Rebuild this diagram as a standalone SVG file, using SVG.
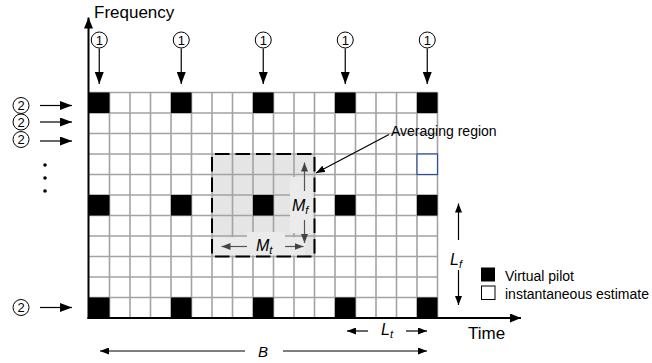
<svg xmlns="http://www.w3.org/2000/svg" width="652" height="363" viewBox="0 0 652 363">
  <defs>
    <style>
      text { font-family: "Liberation Sans", Arial, sans-serif; fill: #000; }
      .lbl { font-size: 17px; }
      .num { font-size: 13px; text-anchor: middle; }
      .leg { font-size: 14px; }
      .it { font-style: italic; font-size: 16px; }
      .sub { font-style: italic; font-size: 11px; }
      .grid { fill: none; stroke: #a3a3a3; stroke-width: 1.6; }
      .pilot { fill: #000; }
      .circ { fill: #fff; stroke: #000; stroke-width: 1; }
      .arr { stroke: #000; stroke-width: 1.2; fill: none; }
      .garr { stroke: #555; stroke-width: 1.2; fill: none; }
      .axis { stroke: #000; stroke-width: 2; fill: none; }
      .box { fill: #ebebeb; }
    </style>
    <marker id="big" markerUnits="userSpaceOnUse" markerWidth="13" markerHeight="9" refX="12" refY="4.5" orient="auto">
      <path d="M0,0 L12,4.5 L0,9 z" fill="#000"/>
    </marker>
    <marker id="small" markerUnits="userSpaceOnUse" markerWidth="10" markerHeight="7" refX="9" refY="3.5" orient="auto">
      <path d="M0,0 L9,3.5 L0,7 z" fill="#000"/>
    </marker>
    <marker id="gsmall" markerUnits="userSpaceOnUse" markerWidth="10" markerHeight="7" refX="9" refY="3.5" orient="auto">
      <path d="M0,0 L9,3.5 L0,7 z" fill="#444"/>
    </marker>
    <marker id="ax" markerUnits="userSpaceOnUse" markerWidth="12" markerHeight="9" refX="11" refY="4.5" orient="auto">
      <path d="M0,0 L11,4.5 L0,9 z" fill="#000"/>
    </marker>
  </defs>

  <rect width="652" height="363" fill="#fff"/>

  <g id="grid">
    <rect x="89" y="92.5" width="348.5" height="225.5" fill="#fff"/>
    <rect id="region-fill" x="212" y="154" width="102.5" height="102.5" fill="#e5e5e5"/>
    <path class="grid" d="M109.5 92.5V318 M130 92.5V318 M150.5 92.5V318 M171 92.5V318 M191.5 92.5V318 M212 92.5V318 M232.5 92.5V318 M253 92.5V318 M273.5 92.5V318 M294 92.5V318 M314.5 92.5V318 M335 92.5V318 M355.5 92.5V318 M376 92.5V318 M396.5 92.5V318 M417 92.5V318 M437.5 92.5V318 M89 92.5H437.5 M89 113H437.5 M89 133.5H437.5 M89 154H437.5 M89 174.5H437.5 M89 195H437.5 M89 215.5H437.5 M89 236H437.5 M89 256.5H437.5 M89 277H437.5 M89 297.5H437.5"/>
    <rect class="box" x="214" y="237.2" width="91" height="18.3"/>
    <rect class="box" x="247" y="232" width="38" height="6"/>
    <rect class="box" x="290" y="177" width="23.5" height="56"/>
    <rect x="417" y="154" width="20.5" height="20.5" fill="#fff" stroke="#2b4b9b" stroke-width="1.2"/>
  </g>

  <g id="pilots">
    <rect class="pilot" x="89" y="92.5" width="20.5" height="20.5"/>
    <rect class="pilot" x="171" y="92.5" width="20.5" height="20.5"/>
    <rect class="pilot" x="253" y="92.5" width="20.5" height="20.5"/>
    <rect class="pilot" x="335" y="92.5" width="20.5" height="20.5"/>
    <rect class="pilot" x="417" y="92.5" width="20.5" height="20.5"/>
    <rect class="pilot" x="89" y="195" width="20.5" height="20.5"/>
    <rect class="pilot" x="171" y="195" width="20.5" height="20.5"/>
    <rect class="pilot" x="253" y="195" width="20.5" height="20.5"/>
    <rect class="pilot" x="335" y="195" width="20.5" height="20.5"/>
    <rect class="pilot" x="417" y="195" width="20.5" height="20.5"/>
    <rect class="pilot" x="89" y="297.5" width="20.5" height="20.5"/>
    <rect class="pilot" x="171" y="297.5" width="20.5" height="20.5"/>
    <rect class="pilot" x="253" y="297.5" width="20.5" height="20.5"/>
    <rect class="pilot" x="335" y="297.5" width="20.5" height="20.5"/>
    <rect class="pilot" x="417" y="297.5" width="20.5" height="20.5"/>
  </g>

  <g id="averaging-region">
    <rect x="212" y="154" width="102.5" height="102.5" fill="none" stroke="#000" stroke-width="2" stroke-dasharray="14.5 6" stroke-dashoffset="17.5"/>
    <text class="leg" x="391" y="136">Averaging region</text>
  </g>

  <g id="mt-label">
    <text class="it" x="256" y="251">M<tspan class="sub" dy="3">t</tspan></text>
  </g>
  <g id="mf-label">
    <text class="it" x="292" y="211">M<tspan class="sub" dy="3">f</tspan></text>
  </g>

  <g id="axes">
    <line class="axis" x1="88.5" y1="319" x2="88.5" y2="17.5" marker-end="url(#ax)"/>
    <line class="axis" x1="87.5" y1="318" x2="521" y2="318" marker-end="url(#ax)"/>
    <text class="lbl" x="94" y="17.5">Frequency</text>
    <text class="lbl" x="468" y="339">Time</text>
  </g>

  <g id="marker-1">
    <circle class="circ" cx="99.25" cy="40" r="8"/><text class="num" x="99.25" y="44.5">1</text>
    <circle class="circ" cx="181.25" cy="40" r="8"/><text class="num" x="181.25" y="44.5">1</text>
    <circle class="circ" cx="263.25" cy="40" r="8"/><text class="num" x="263.25" y="44.5">1</text>
    <circle class="circ" cx="345.25" cy="40" r="8"/><text class="num" x="345.25" y="44.5">1</text>
    <circle class="circ" cx="427.25" cy="40" r="8"/><text class="num" x="427.25" y="44.5">1</text>
  </g>

  <g id="marker-2">
    <circle class="circ" cx="21" cy="105.5" r="8"/><text class="num" x="21" y="110">2</text>
    <circle class="circ" cx="21" cy="122" r="8"/><text class="num" x="21" y="126.5">2</text>
    <circle class="circ" cx="21" cy="139.5" r="8"/><text class="num" x="21" y="144">2</text>
    <circle class="circ" cx="21" cy="307.5" r="8"/><text class="num" x="21" y="312">2</text>
    <circle cx="45" cy="165" r="1.8" fill="#000"/>
    <circle cx="45" cy="178" r="1.8" fill="#000"/>
    <circle cx="45" cy="191" r="1.8" fill="#000"/>
  </g>

  <g id="lf-label">
    <text class="it" x="450" y="265">L<tspan class="sub" dy="3">f</tspan></text>
  </g>
  <g id="lt-label">
    <text class="it" x="381" y="335">L<tspan class="sub" dy="3">t</tspan></text>
  </g>
  <g id="b-label">
    <text class="it" x="258" y="357" style="font-size:15px">B</text>
  </g>

  <g id="legend">
    <rect x="481" y="267.5" width="14" height="14" fill="#000"/>
    <text class="leg" x="505" y="280.5">Virtual pilot</text>
    <rect x="481.5" y="286" width="13.5" height="13.5" fill="#fff" stroke="#000" stroke-width="1"/>
    <text class="leg" x="505" y="299">instantaneous estimate</text>
  </g>

  <g id="connectors">
    <line class="arr" x1="99.25" y1="48.5" x2="99.25" y2="84" marker-end="url(#big)"/>
    <line class="arr" x1="181.25" y1="48.5" x2="181.25" y2="84" marker-end="url(#big)"/>
    <line class="arr" x1="263.25" y1="48.5" x2="263.25" y2="84" marker-end="url(#big)"/>
    <line class="arr" x1="345.25" y1="48.5" x2="345.25" y2="84" marker-end="url(#big)"/>
    <line class="arr" x1="427.25" y1="48.5" x2="427.25" y2="84" marker-end="url(#big)"/>
    <line class="arr" x1="40" y1="105.5" x2="72" y2="105.5" marker-end="url(#big)"/>
    <line class="arr" x1="40" y1="122" x2="72" y2="122" marker-end="url(#big)"/>
    <line class="arr" x1="40" y1="141" x2="72" y2="141" marker-end="url(#big)"/>
    <line class="arr" x1="40" y1="307.5" x2="72" y2="307.5" marker-end="url(#big)"/>
    <line class="arr" x1="389" y1="134.5" x2="316" y2="173" marker-end="url(#small)"/>
    <line class="garr" x1="247" y1="246.5" x2="221.5" y2="246.5" marker-end="url(#gsmall)"/>
    <line class="garr" x1="285" y1="246.5" x2="303.5" y2="246.5" marker-end="url(#gsmall)"/>
    <line class="garr" x1="304.5" y1="191" x2="304.5" y2="162.5" marker-end="url(#gsmall)"/>
    <line class="garr" x1="304.5" y1="220" x2="304.5" y2="243" marker-end="url(#gsmall)"/>
    <line class="arr" x1="458.5" y1="240" x2="458.5" y2="203.5" marker-end="url(#small)"/>
    <line class="arr" x1="458.5" y1="270" x2="458.5" y2="305" marker-end="url(#small)"/>
    <line class="arr" x1="368" y1="331" x2="347" y2="331" marker-end="url(#small)"/>
    <line class="arr" x1="406" y1="331" x2="427" y2="331" marker-end="url(#small)"/>
    <line class="arr" x1="245" y1="351" x2="100" y2="351" marker-end="url(#small)"/>
    <line class="arr" x1="283" y1="351" x2="427" y2="351" marker-end="url(#small)"/>
  </g>
</svg>
